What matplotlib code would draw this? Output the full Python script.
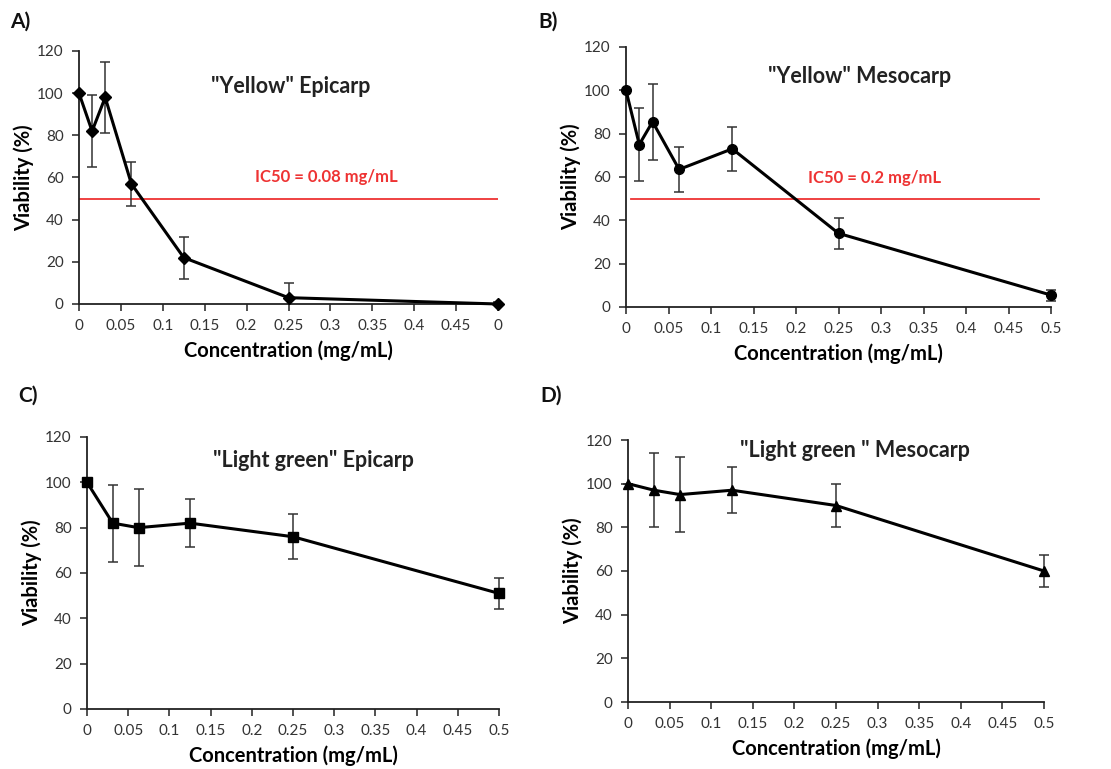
import matplotlib
matplotlib.use("Agg")
import matplotlib.pyplot as plt

plt.rcParams['font.family'] = ['Lato', 'DejaVu Sans']

# Data
xA = [0, 0.015625, 0.03125, 0.0625, 0.125, 0.25, 0.5]
yA = [100, 82, 98, 57, 22, 3, 0]
eA = [0, 17, 17, 10.5, 10, 7, 1]

xB = [0, 0.015625, 0.03125, 0.0625, 0.125, 0.25, 0.5]
yB = [100, 75, 85.5, 63.5, 73, 34, 5.5]
eB = [0, 17, 17.5, 10.5, 10, 7, 2.5]

xC = [0, 0.03125, 0.0625, 0.125, 0.25, 0.5]
yC = [100, 82, 80, 82, 76, 51]
eC = [0, 17, 17, 10.5, 10, 7]

xD = [0, 0.03125, 0.0625, 0.125, 0.25, 0.5]
yD = [100, 97, 95, 97, 90, 60]
eD = [0, 17, 17, 10.5, 10, 7.5]

xticks = [0, 0.05, 0.1, 0.15, 0.2, 0.25, 0.3, 0.35, 0.4, 0.45, 0.5]
xlabels_std = ['0', '0.05', '0.1', '0.15', '0.2', '0.25', '0.3', '0.35', '0.4', '0.45', '0.5']
xlabels_A = ['0', '0.05', '0.1', '0.15', '0.2', '0.25', '0.3', '0.35', '0.4', '0.45', '0']
yticks = [0, 20, 40, 60, 80, 100, 120]

W, H = 1111, 769
fig = plt.figure(figsize=(W / 100, H / 100), dpi=100)


def rect(l, r, t, b):
    return [l / W, (H - b) / H, (r - l) / W, (b - t) / H]


def setup(ax, xl):
    ax.set_xlim(0, 0.5)
    ax.set_ylim(0, 120)
    ax.set_xticks(xticks)
    ax.set_xticklabels(xl)
    ax.set_yticks(yticks)
    for s in ['top', 'right']:
        ax.spines[s].set_visible(False)
    for s in ['left', 'bottom']:
        ax.spines[s].set_linewidth(1.3)
        ax.spines[s].set_color('#222222')
    ax.tick_params(direction='out', length=5, width=1.1, colors='#222222',
                   labelcolor='#333333', labelsize=11, pad=6)
    ax.set_ylabel('Viability (%)', fontsize=14.5, fontweight='bold', labelpad=2)
    ax.set_xlabel('Concentration (mg/mL)', fontsize=14.5, fontweight='bold', labelpad=5)


def draw(ax, x, y, e, marker, ms, clip_err=False):
    eb = ax.errorbar(x, y, yerr=e, fmt='none', ecolor='#333333', elinewidth=1.1,
                     capsize=3.5, capthick=1.1, zorder=3)
    if not clip_err:
        for art in eb.get_children():
            art.set_clip_on(False)
    ax.plot(x, y, color='black', lw=2.2, marker=marker, ms=ms,
            clip_on=False, zorder=4)


axA = fig.add_axes(rect(79, 498, 51, 304))
setup(axA, xlabels_A)
axA.axhline(50, color='#ee3333', lw=1.3, zorder=2)
draw(axA, xA, yA, eA, 'D', 6, clip_err=True)
axA.text(0.505, 0.86, '"Yellow" Epicarp', transform=axA.transAxes, ha='center',
         va='center', fontsize=15.5, fontweight='bold', color='#222222')
axA.text(0.59, 0.50, 'IC50 = 0.08 mg/mL', transform=axA.transAxes, ha='center',
         va='center', fontsize=12, fontweight='bold', color='#ee3333')

axB = fig.add_axes(rect(626, 1051, 47, 307))
setup(axB, xlabels_std)
axB.plot([0.006, 0.486], [50, 50], color='#ee3333', lw=1.3, zorder=2)
draw(axB, xB, yB, eB, 'o', 7)
axB.text(0.55, 0.885, '"Yellow" Mesocarp', transform=axB.transAxes, ha='center',
         va='center', fontsize=15.5, fontweight='bold', color='#222222')
axB.text(0.585, 0.495, 'IC50 = 0.2 mg/mL', transform=axB.transAxes, ha='center',
         va='center', fontsize=12, fontweight='bold', color='#ee3333')

axC = fig.add_axes(rect(87, 499, 437, 709))
setup(axC, xlabels_std)
draw(axC, xC, yC, eC, 's', 7)
axC.text(0.55, 0.915, '"Light green" Epicarp', transform=axC.transAxes, ha='center',
         va='center', fontsize=15.5, fontweight='bold', color='#222222')

axD = fig.add_axes(rect(628, 1044, 440, 702))
setup(axD, xlabels_std)
draw(axD, xD, yD, eD, '^', 7)
axD.text(0.545, 0.96, '"Light green " Mesocarp', transform=axD.transAxes, ha='center',
         va='center', fontsize=15.5, fontweight='bold', color='#222222')

for lbl, px, py in [('A)', 10, 22), ('B)', 538, 22), ('C)', 18, 396), ('D)', 540, 396)]:
    fig.text(px / W, 1 - py / H, lbl, fontsize=15, fontweight='bold',
             ha='left', va='center', color='#111111')

fig.savefig('out.png', dpi=100)
